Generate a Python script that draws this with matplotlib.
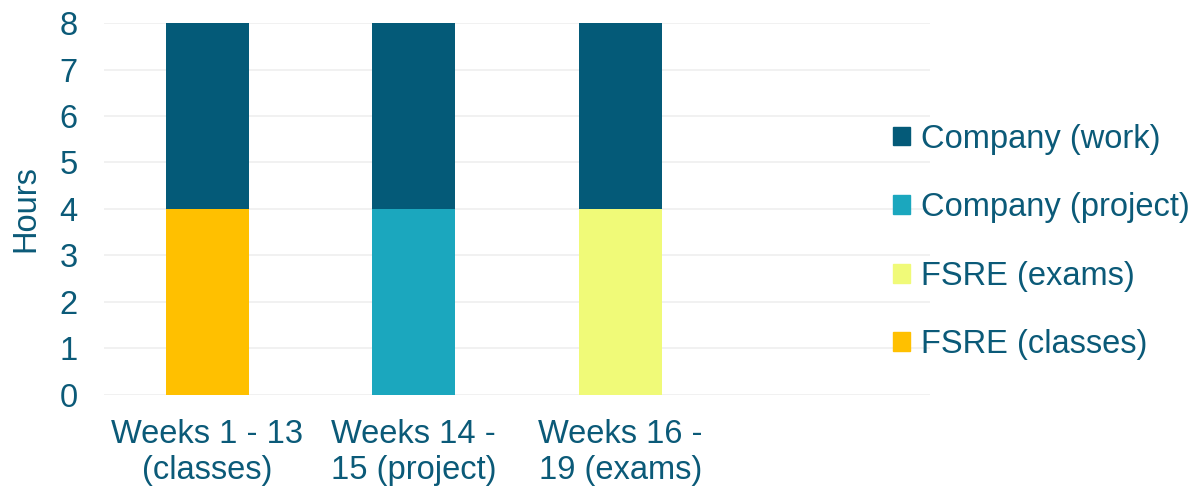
import numpy as np
from matplotlib import pyplot as plt
from matplotlib.patches import Patch

categories = ['Weeks 1 - 13\n(classes)', 'Weeks 14 -\n15 (project)', 'Weeks 16 -\n19 (exams)', '']
fsre_classes = [4, 0, 0, 0]
company_project = [0, 4, 0, 0]
fsre_exams = [0, 0, 4, 0]
company_work = [4, 4, 4, 0]

# stacking order, bottom to top
series = [
    ('FSRE (classes)', fsre_classes, '#FFC000'),
    ('Company (project)', company_project, '#1BA7BE'),
    ('FSRE (exams)', fsre_exams, '#F0FA78'),
    ('Company (work)', company_work, '#045A78'),
]
legend_order = ['Company (work)', 'Company (project)', 'FSRE (exams)', 'FSRE (classes)']

text_color = '#0B5A78'
plt.rcParams['font.family'] = ['Liberation Sans', 'DejaVu Sans']
fs = 23.5

fig = plt.figure()
fig.set_dpi(100)
fig.set_size_inches(11.99, 4.9)
ax = fig.add_axes([0.0867, 0.194, 0.689, 0.759])

x = np.arange(len(categories))
bottom = np.zeros(len(categories))
for name, vals, col in series:
    ax.bar(x, vals, 0.4, bottom=bottom, color=col, label=name, zorder=3)
    bottom += np.array(vals)

ax.set_xlim(-0.5, 3.5)
ax.set_ylim(0, 8)
ax.set_yticks(range(0, 9))
ax.set_xticks(x)
ax.set_xticklabels(categories, fontsize=fs, color=text_color, linespacing=1.22)
ax.tick_params(axis='y', labelsize=fs, labelcolor=text_color, length=0, pad=19)
ax.tick_params(axis='x', length=0, pad=17)
ax.grid(axis='y', color='#EFEFEF', lw=1.2, zorder=0)
for s in ax.spines.values():
    s.set_visible(False)
ax.set_ylabel('Hours', fontsize=fs, color=text_color, labelpad=13)

colors = {name: col for name, vals, col in series}
handles = [Patch(color=colors[n], label=n) for n in legend_order]
leg = fig.legend(handles=handles, loc='center left', bbox_to_anchor=(0.745, 0.506),
                 frameon=False, fontsize=fs, handlelength=0.5, handleheight=0.5,
                 handletextpad=0.35, labelspacing=1.15, borderaxespad=0, borderpad=0)
for t in leg.get_texts():
    t.set_color(text_color)

fig.savefig('out.png', dpi=100)
